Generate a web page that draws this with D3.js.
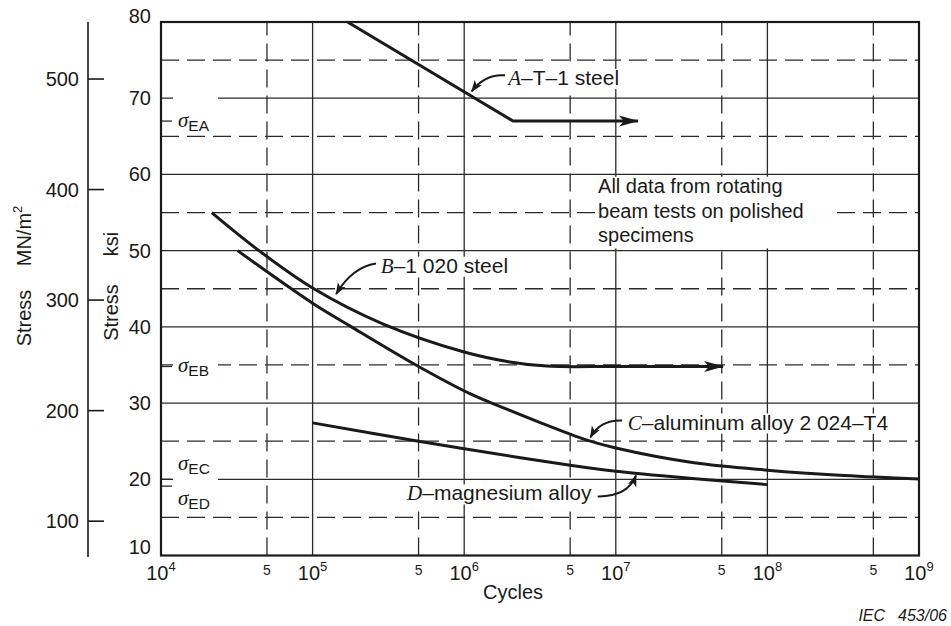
<!DOCTYPE html>
<html>
<head>
<meta charset="utf-8">
<script src="https://cdn.jsdelivr.net/npm/d3@7"></script>
<style>
  body { margin: 0; background: #fff; }
  svg { display: block; font-family: "Liberation Sans", Arial, sans-serif; }
</style>
</head>
<body>
<svg id="chart" width="951" height="626"></svg>
<script>
// S–N fatigue curves: stress amplitude (ksi, with MN/m² on a parallel axis) against cycles to failure.

const cycleDecades = [1e4, 1e5, 1e6, 1e7, 1e8, 1e9];
const cycleHalfDecades = [5e4, 5e5, 5e6, 5e7, 5e8];
const ksiMajor = [10, 20, 30, 40, 50, 60, 70, 80];
const ksiMinor = [15, 25, 35, 45, 55, 65, 75];
const mpaTicks = [100, 200, 300, 400, 500];

// [cycles, stress in ksi]
const curveA = [[1.7e5, 80], [2.1e6, 67], [1.4e7, 67]];
const curveB = [[2.16e4, 55.0], [4.5e4, 49.9], [1e5, 45.1], [2.9e5, 40.4], [1e6, 36.7],
                [2e6, 35.4], [3.5e6, 34.85], [1e7, 34.8], [5.1e7, 34.8]];
const curveC = [[3.2e4, 50.0], [1e5, 43.1], [1.77e5, 40.1], [4.9e5, 34.9], [1.1e6, 31.2],
                [1.8e6, 29.4], [3.2e6, 27.4], [6.3e6, 25.2], [1e7, 24.1], [3.2e7, 22.2],
                [1e8, 21.2], [3.2e8, 20.5], [1e9, 20.05]];
const curveD = [[1e5, 27.4], [5e5, 25.0], [1e6, 24.0], [5e6, 21.85], [1e7, 21.05],
                [3.2e7, 20.1], [1e8, 19.3]];

const enduranceNames = ["EA", "EB", "EC", "ED"];
const enduranceKsi = [67, 34.8, 20, 19.1];

const noteLines = ["All data from rotating", "beam tests on polished", "specimens"];

const KSI_TO_MPA = 6.894757;

const svg = d3.select("#chart");
const x = d3.scaleLog().domain([1e4, 1e9]).range([161, 919]);
const y = d3.scaleLinear().domain([10, 80]).range([555.5, 22]);
const yMpa = d3.scaleLinear().domain([10 * KSI_TO_MPA, 80 * KSI_TO_MPA]).range(y.range());

const INK = "#1a1a1a";
const GRID = "#2a2a2a";
const serif = "'Liberation Serif', 'Times New Roman', serif";

// ---- markers
const defs = svg.append("defs");
defs.append("marker").attr("id", "bigArrow")
  .attr("viewBox", "0 -6 20 12").attr("refX", 19).attr("refY", 0)
  .attr("markerWidth", 20).attr("markerHeight", 12)
  .attr("markerUnits", "userSpaceOnUse").attr("orient", "auto")
  .append("path").attr("d", "M0,-5.5L20,0L0,5.5L5,0Z").attr("fill", INK);
defs.append("marker").attr("id", "smallArrow")
  .attr("viewBox", "0 -5 12 10").attr("refX", 11).attr("refY", 0)
  .attr("markerWidth", 12).attr("markerHeight", 10)
  .attr("markerUnits", "userSpaceOnUse").attr("orient", "auto")
  .append("path").attr("d", "M0,-4.5L12,0L0,4.5L3,0Z").attr("fill", INK);

// ---- grid
const grid = svg.append("g").attr("stroke", GRID).attr("stroke-width", 1.3);
const [x0, x1] = x.range();
const [yb, yt] = y.range();

grid.selectAll(".vmaj").data(cycleDecades.slice(1, -1)).join("line")
  .attr("x1", d => x(d)).attr("x2", d => x(d)).attr("y1", yb).attr("y2", yt);
grid.selectAll(".vmin").data(cycleHalfDecades).join("line")
  .attr("x1", d => x(d)).attr("x2", d => x(d)).attr("y1", yb).attr("y2", yt)
  .attr("stroke-dasharray", "18 8");
grid.selectAll(".hmaj").data(ksiMajor.slice(1, -1)).join("line")
  .attr("x1", x0).attr("x2", x1).attr("y1", d => y(d)).attr("y2", d => y(d));
grid.selectAll(".hmin").data(ksiMinor).join("line")
  .attr("x1", x0).attr("x2", x1).attr("y1", d => y(d)).attr("y2", d => y(d))
  .attr("stroke-dasharray", "18 8");

// endurance-limit ticks on the ksi axis
grid.selectAll(".etick").data(enduranceKsi).join("line")
  .attr("x1", x0).attr("x2", x0 + 11).attr("y1", d => y(d)).attr("y2", d => y(d));

// ---- σ labels (white knock-out behind each)
const sigmaBoxes = { EA: [70.4, 65.7], EB: [36.1, 33.6], EC: [22.6, 19.85], ED: [19.75, 15.7] };
const sigmaBaseline = { EA: 66.2, EB: 34.1, EC: 21.2, ED: 16.6 };
const sigmaG = svg.append("g");
enduranceNames.forEach((name, i) => {
  const g = sigmaG.append("g");
  const [top, bot] = sigmaBoxes[name];
  g.append("rect").attr("x", x0 + 12).attr("width", 45)
    .attr("y", y(top)).attr("height", y(bot) - y(top)).attr("fill", "#fff");
  const t = g.append("text").attr("x", x0 + 17).attr("y", y(sigmaBaseline[name])).attr("fill", INK);
  t.append("tspan").attr("font-family", serif).attr("font-style", "italic")
    .attr("font-size", 21).text("σ");
  t.append("tspan").attr("font-size", 15.5).attr("dy", 4).text(name);
});

// ---- frame
svg.append("rect").attr("x", x0).attr("y", yt).attr("width", x1 - x0).attr("height", yb - yt)
  .attr("fill", "none").attr("stroke", INK).attr("stroke-width", 2.2);

// ---- note block
const note = svg.append("g");
note.append("rect").attr("x", x(7.4e6)).attr("y", y(59.7))
  .attr("width", x(2.8e8) - x(7.4e6)).attr("height", y(50.3) - y(59.7)).attr("fill", "#fff");
note.selectAll("text").data(noteLines).join("text")
  .attr("x", x(7.64e6)).attr("y", (d, i) => y([57.6, 54.3, 51.15][i]))
  .attr("font-size", 20).attr("fill", INK).text(d => d);

// ---- curves
const line = d3.line().x(d => x(d[0])).y(d => y(d[1]));
const smooth = d3.curveCatmullRom.alpha(0.5);
const curves = svg.append("g").attr("fill", "none").attr("stroke", INK)
  .attr("stroke-width", 3).attr("stroke-linejoin", "round");
curves.append("path").datum(curveA).attr("d", line.curve(d3.curveLinear)).attr("marker-end", "url(#bigArrow)");
curves.append("path").datum(curveB).attr("d", line.curve(smooth)).attr("marker-end", "url(#bigArrow)");
curves.append("path").datum(curveC).attr("d", line.curve(smooth));
curves.append("path").datum(curveD).attr("d", line.curve(smooth));

// ---- curve annotations: label anchor, leader start, control, tip (cycles, ksi)
const annotations = [
  { letter: "A", rest: "–T–1 steel", at: [1.95e6, 71.74],
    leader: [[1.86e6, 73.0], [1.37e6, 73.2], [1.12e6, 70.9]] },
  { letter: "B", rest: "–1 020 steel", at: [2.82e5, 47.1],
    leader: [[2.62e5, 48.3], [1.82e5, 47.8], [1.43e5, 44.3]] },
  { letter: "C", rest: "–aluminum alloy 2 024–T4", at: [1.2e7, 26.53],
    leader: [[1.1e7, 27.7], [7.9e6, 27.8], [6.8e6, 25.5]] },
  { letter: "D", rest: "–magnesium alloy", at: [4.2e5, 17.22],
    leader: [[7.6e6, 17.75], [1.2e7, 17.7], [1.36e7, 20.5]] }
];
const ann = svg.append("g");
annotations.forEach(a => {
  const g = ann.append("g");
  const t = g.append("text").attr("x", x(a.at[0])).attr("y", y(a.at[1]))
    .attr("font-size", 21).attr("fill", INK);
  t.append("tspan").attr("font-family", serif).attr("font-style", "italic").text(a.letter);
  t.append("tspan").text(a.rest);
  const bb = t.node().getBBox();
  g.insert("rect", "text").attr("x", bb.x - 2).attr("y", bb.y + 3)
    .attr("width", bb.width + 4).attr("height", bb.height - 4).attr("fill", "#fff");
  const [s, c, e] = a.leader;
  g.append("path")
    .attr("d", `M${x(s[0])},${y(s[1])}Q${x(c[0])},${y(c[1])} ${x(e[0])},${y(e[1])}`)
    .attr("fill", "none").attr("stroke", INK).attr("stroke-width", 2)
    .attr("marker-end", "url(#smallArrow)");
});

// ---- ksi axis labels
const ksiNudge = { 80: -6, 10: -9 };
svg.append("g").selectAll("text").data(ksiMajor).join("text")
  .attr("x", 151).attr("y", d => y(d) + 7 + (ksiNudge[d] || 0))
  .attr("text-anchor", "end").attr("font-size", 20).attr("fill", INK).text(d => d);

// ---- MN/m² axis
const mpaG = svg.append("g").attr("stroke", INK).attr("stroke-width", 1.6);
mpaG.append("line").attr("x1", 88).attr("x2", 88).attr("y1", yt).attr("y2", yb + 1.5);
mpaG.selectAll(".mt").data(mpaTicks).join("line")
  .attr("x1", 88).attr("x2", 104).attr("y1", d => yMpa(d)).attr("y2", d => yMpa(d));
svg.append("g").selectAll("text").data(mpaTicks).join("text")
  .attr("x", 79).attr("y", d => yMpa(d) + 7)
  .attr("text-anchor", "end").attr("font-size", 20).attr("fill", INK).text(d => d);

// ---- axis titles
function vText(bx, cy, build) {
  const t = svg.append("text").attr("transform", `translate(${bx},${cy}) rotate(-90)`)
    .attr("text-anchor", "middle").attr("font-size", 20).attr("fill", INK);
  build(t);
}
vText(31, 318, t => t.text("Stress"));
vText(31, 236, t => { t.append("tspan").text("MN/m"); t.append("tspan").attr("font-size", 13).attr("dy", -9).text("2"); });
vText(118, 312.5, t => t.text("Stress"));
vText(118, 244, t => t.text("ksi"));

// ---- cycle axis labels
const xl = svg.append("g").attr("fill", INK);
cycleDecades.forEach(d => {
  const t = xl.append("text").attr("x", x(d)).attr("y", 580).attr("text-anchor", "middle").attr("font-size", 20);
  t.append("tspan").text("10");
  t.append("tspan").attr("font-size", 13).attr("dy", -9).text(Math.round(Math.log10(d)));
});
xl.selectAll(".half").data(cycleHalfDecades).join("text")
  .attr("x", d => x(d)).attr("y", 575).attr("text-anchor", "middle").attr("font-size", 14).text("5");
xl.append("text").attr("x", x(2.1e6)).attr("y", 599).attr("text-anchor", "middle")
  .attr("font-size", 20).text("Cycles");

// figure reference
const ref = svg.append("text").attr("x", 947).attr("y", 621).attr("text-anchor", "end")
  .attr("font-size", 16).attr("font-style", "italic").attr("fill", INK);
ref.append("tspan").text("IEC");
ref.append("tspan").attr("dx", 13).text("453/06");
</script>
</body>
</html>
